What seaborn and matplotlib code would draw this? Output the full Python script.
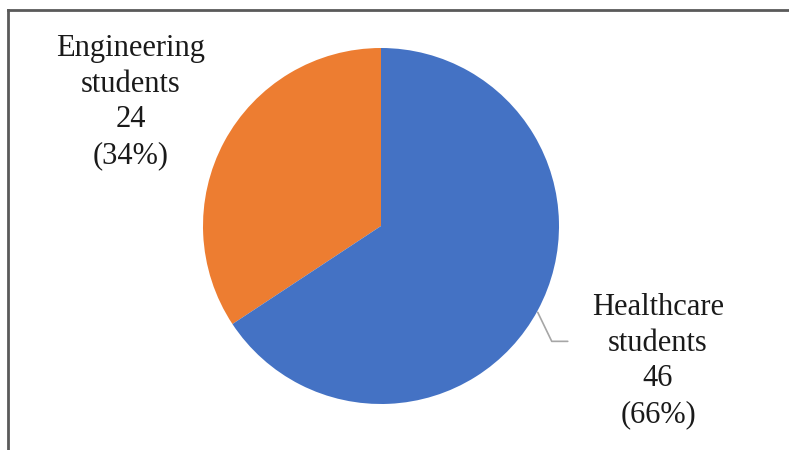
import numpy as np
import matplotlib
matplotlib.use("Agg")
import matplotlib.pyplot as plt
import seaborn as sns

# Survey participants by group
groups = ["Engineering\nstudents", "Healthcare\nstudents"]
counts = [24, 46]
colors = ["#ED7D31", "#4472C4"]

sns.set_theme(style="white")
plt.rcParams["font.family"] = ["Liberation Serif", "DejaVu Serif"]

W, H = 789, 450
fig = plt.figure(figsize=(W / 100, H / 100), dpi=100)
fig.patch.set_facecolor("white")

# Axes in pixel-like units; the top and left spines form the frame
left, top = 8, 10
ax = fig.add_axes([left / W, 0, (W - left) / W, (H - top) / H])
cx, cy, r = 381 - left, H - 226, 178

wedges, _ = ax.pie(counts, colors=colors, startangle=90, counterclock=True,
                   center=(cx, cy), radius=r,
                   wedgeprops=dict(linewidth=0))

ax.set_xlim(0, W - left)
ax.set_ylim(0, H - top)
ax.set_aspect("equal")
ax.set_frame_on(True)
ax.set_xticks([])
ax.set_yticks([])
for side in ["right", "bottom"]:
    ax.spines[side].set_visible(False)
for side in ["top", "left"]:
    ax.spines[side].set_visible(True)
    ax.spines[side].set_color("#5a5a5a")
    ax.spines[side].set_linewidth(2)

total = sum(counts)
label_pos = [(131 - left, H - 102), (658 - left, H - 361)]
for w, name, n, (lx, ly) in zip(wedges, groups, counts, label_pos):
    pct = round(100 * n / total)
    ax.text(lx, ly, f"{name}\n{n}\n({pct}%)", ha="center", va="center",
            fontsize=22, color="#1a1a1a", linespacing=1.3)

# Leader line for the Healthcare label
w = wedges[1]
mid = np.deg2rad((w.theta1 + w.theta2) / 2)
x0, y0 = cx + r * np.cos(mid), cy + r * np.sin(mid)
ax.plot([x0, x0 + 14, x0 + 30], [y0 - 2, y0 - 31, y0 - 31],
        color="#a6a6a6", linewidth=1.2)

fig.savefig("out.png", dpi=100, facecolor="white")
